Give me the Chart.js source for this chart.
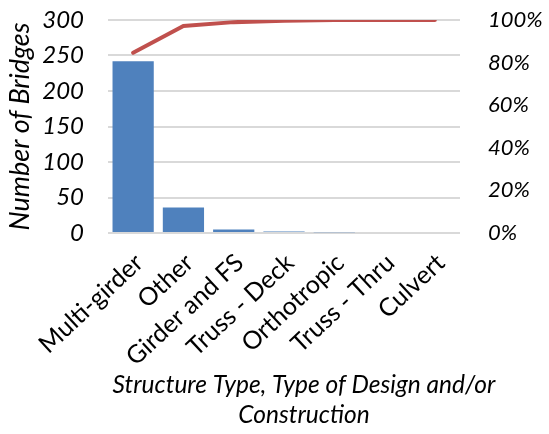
<!DOCTYPE html>
<html><head><meta charset="utf-8">
<script src="https://cdn.jsdelivr.net/npm/chart.js@4"></script>
<style>html,body{margin:0;padding:0;background:#fff}#wrap{width:549px;height:434px}</style>
</head><body><div id="wrap"><canvas id="c" width="549" height="434"></canvas></div>
<script>
const categories = ["Multi-girder","Other","Girder and FS","Truss - Deck","Orthotropic","Truss - Thru","Culvert"];
const bridgeCounts = [242, 36, 5, 2, 1, 0, 0];
const cumulativePct = [0.846, 0.972, 0.990, 0.997, 1.000, 1.000, 1.000];
const leftMax = 300, leftStep = 50;
const rightMax = 1, rightStep = 0.2;
const yTitle = "Number of Bridges";
const xTitleLines = ["Structure Type, Type of Design and/or","Construction"];

const FONT = "Lato";
const xTitlePlugin = {
  id:'xTitle',
  afterDraw(chart){
    const ctx = chart.ctx;
    ctx.save();
    ctx.font = "italic 24.5px " + FONT;
    ctx.fillStyle = "#000";
    ctx.textAlign = "center"; ctx.textBaseline = "middle";
    const cx = 304;
    ctx.fillText(xTitleLines[0], cx, 385);
    ctx.fillText(xTitleLines[1], cx, 415);
    ctx.restore();
  }
};
new Chart(document.getElementById('c'), {
  data:{
    labels: categories,
    datasets:[
      {type:'line', data: cumulativePct, yAxisID:'y2', borderColor:'#C0504D', borderWidth:4, pointRadius:0, borderCapStyle:'round', tension:0, order:0},
      {type:'bar', data: bridgeCounts, yAxisID:'y', backgroundColor:'#4F81BD', barPercentage:0.82, categoryPercentage:1, order:1}
    ]
  },
  plugins:[xTitlePlugin],
  options:{
    responsive:false, animation:false,
    layout:{padding:{top:20, right:0, left:0, bottom:0}},
    plugins:{legend:{display:false}, tooltip:{enabled:false}},
    scales:{
      x:{
        grid:{display:false}, border:{display:false},
        ticks:{font:{family:FONT, size:25}, color:'#000', maxRotation:43, minRotation:43, padding:7, labelOffset:6},
        afterFit(s){ s.height = 201; }
      },
      y:{
        position:'left', min:0, max:leftMax,
        grid:{color:'#D9D9D9', lineWidth:2, tickLength:24, tickColor:'rgba(0,0,0,0)'},
        border:{display:false},
        ticks:{stepSize:leftStep, font:{family:FONT, size:24, style:'italic'}, color:'#000', padding:0},
        title:{display:true, text:yTitle, font:{family:FONT, size:27, style:'italic'}, color:'#000', padding:{top:4,bottom:0}},
        afterFit(s){ s.width = 108; }
      },
      y2:{
        position:'right', min:0, max:rightMax,
        grid:{drawOnChartArea:false, tickLength:28, tickColor:'rgba(0,0,0,0)'}, border:{display:false},
        ticks:{stepSize:rightStep, font:{family:FONT, size:22, style:'italic'}, color:'#000', padding:0, callback:v=>Math.round(v*100)+'%'},
        afterFit(s){ s.width = 89; }
      }
    }
  }
});
</script></body></html>
